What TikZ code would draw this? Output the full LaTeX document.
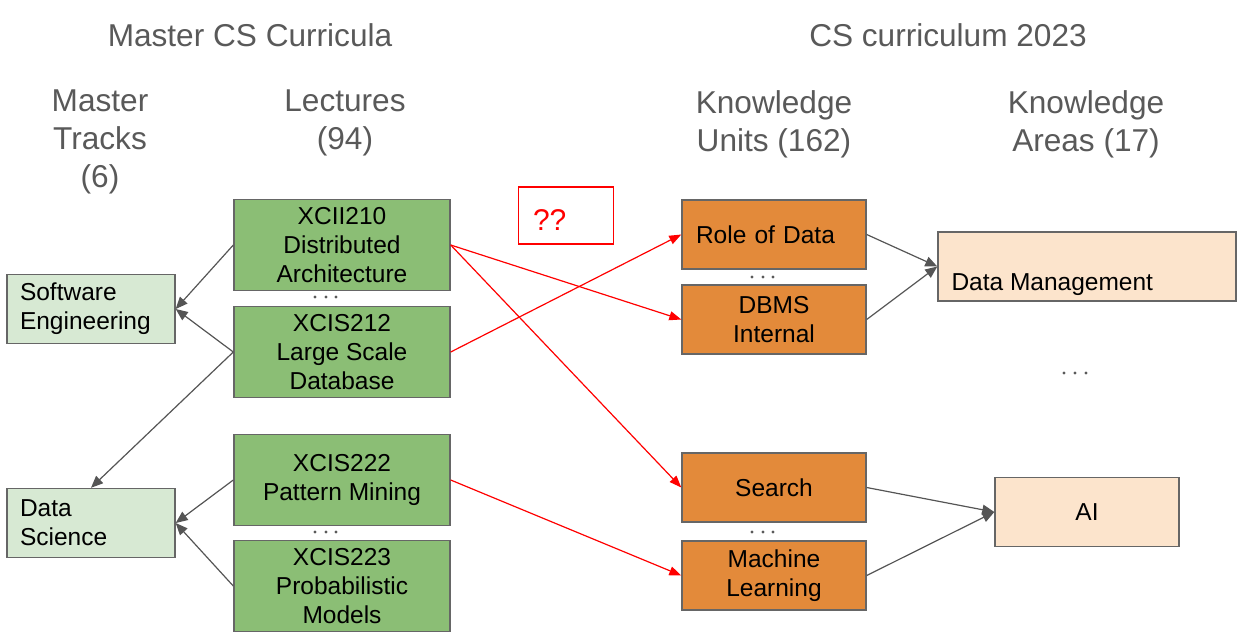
\documentclass[tikz,border=0pt]{standalone}
\usepackage{fontspec}
\setmainfont{Liberation Sans}
\usetikzlibrary{calc,positioning,arrows.meta}

\definecolor{headgray}{HTML}{595959}
\definecolor{framegray}{HTML}{666666}
\definecolor{linegray}{HTML}{555555}
\definecolor{trackgreen}{HTML}{D7E9D3}
\definecolor{lecturegreen}{HTML}{8BBE75}
\definecolor{unitorange}{HTML}{E38A3A}
\definecolor{areaorange}{HTML}{FCE4CC}

\begin{document}
\begin{tikzpicture}[
	%	style def
    x=1pt, y=-1pt,
    every node/.style={color=black, inner sep=0pt},
    head text/.style={color=headgray, align=center, anchor=north, font=\fontsize{31.6}{38}\selectfont},
    box text/.style={font=\fontsize{24.5}{29.3}\selectfont},
    box/.style={box text, draw=framegray, line width=1.4pt, minimum height=69pt, align=center},
    track box/.style={box, fill=trackgreen, minimum width=168pt, text width=142pt, align=left},
    lecture box/.style={box, fill=lecturegreen, minimum width=216pt, minimum height=91pt},
    unit box/.style={box, fill=unitorange, minimum width=184pt},
    area box/.style={box, fill=areaorange},
    link line/.style={draw=linegray, line width=1.2pt, -{Triangle[length=12pt,width=10pt]}},
    open line/.style={draw=red, line width=1.2pt, -{Triangle[length=12pt,width=9pt]}}
    ]
    \useasboundingbox (0,0) rectangle (1242,638);

	% titles and column heads
    \node[head text] (mcc) at (250,23) {Master CS Curricula};
    \node[head text] (cs23) at (948,23) {CS curriculum 2023};
    \node[head text] (tracks) at (100,90) {Master\\Tracks\\(6)};
    \node[head text] (lect) at (345,90) {Lectures\\(94)};
    \node[head text] (ku) at (774,90) {Knowledge\\Units (162)};
    \node[head text] (ka) at (1086,90) {Knowledge\\Areas (17)};

    % master tracks
    \node[track box] (se) at (91,309) {Software\\Engineering};
    \node[track box] (ds) at (91,523) {Data\\Science};

    % lectures
    \node[lecture box] (dist) at (342,245) {XCII210\\Distributed\\Architecture};
    \node[lecture box] (lsdb) at (342,352) {XCIS212\\Large Scale\\Database};
    \node[lecture box] (pm) at (342,480) {XCIS222\\Pattern Mining};
    \node[lecture box] (prob) at (342,586) {XCIS223\\Probabilistic\\Models};

    % knowledge units
    \node[unit box, text width=156pt, align=left] (role) at (774,234.5) {Role of Data};
    \node[unit box] (dbms) at (774,319.5) {DBMS\\Internal};
    \node[unit box] (search) at (774,487.5) {Search};
    \node[unit box] (ml) at (774,575.5) {Machine\\Learning};

    % knowledge areas
    \node[area box, minimum width=298pt] (dm) at (1087,266.5) {};
    \node[box text, anchor=west] (dmlabel) at ([xshift=14pt, yshift=-18.5pt]dm.west) {Data Management};
    \node[area box, minimum width=184pt] (ai) at (1087,512) {AI};

    % open question
    \node[draw=red, line width=1.2pt, minimum width=95pt, minimum height=57pt, text width=66pt, text height=30pt, align=left, text=red, font=\fontsize{30}{36}\selectfont] (qq) at (566,215.5) {??};

    % omitted entries
    \fill[headgray]
        (315,297) circle (1.6pt) (326,297) circle (1.6pt) (336,297) circle (1.6pt)
        (315,532) circle (1.6pt) (326,532) circle (1.6pt) (336,532) circle (1.6pt)
        (752,277) circle (1.6pt) (763,277) circle (1.6pt) (773,277) circle (1.6pt)
        (752,532) circle (1.6pt) (763,532) circle (1.6pt) (773,532) circle (1.6pt)
        (1064,373) circle (1.6pt) (1075,373) circle (1.6pt) (1086,373) circle (1.6pt);

    % lectures to tracks
    \draw[link line] (dist.west) -- (se.east);
    \draw[link line] (lsdb.west) -- (se.east);
    \draw[link line] (lsdb.west) -- (ds.north);
    \draw[link line] (pm.west) -- (ds.east);
    \draw[link line] (prob.west) -- (ds.east);

    %lectures to units (unknown)
    \draw[open line] (dist.east) -- (dbms.west);
    \draw[open line] (dist.east) -- (search.west);
    \draw[open line] (lsdb.east) -- (role.west);
    \draw[open line] (pm.east) -- (ml.west);

    % units to areas
    \draw[link line] (role.east) -- (dm.west);
    \draw[link line] (dbms.east) -- (dm.west);
    \draw[link line] (search.east) -- (ai.west);
    \draw[link line] (ml.east) -- (ai.west);

\end{tikzpicture}
\end{document}
